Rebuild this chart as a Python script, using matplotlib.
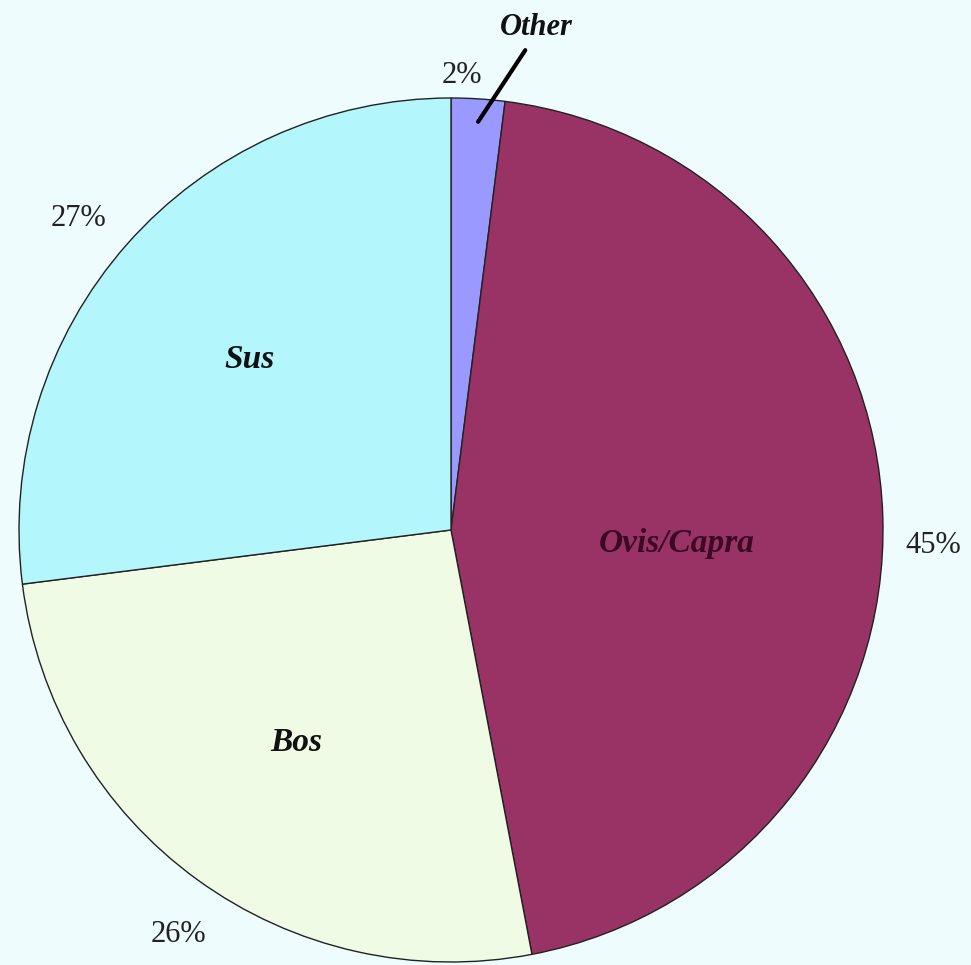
import numpy as np
import matplotlib
matplotlib.use("Agg")
import matplotlib.pyplot as plt

# clockwise from 12 o'clock
labels = ["Other", "Ovis/Capra", "Bos", "Sus"]
values = [2, 45, 26, 27]
colors = ["#9999ff", "#993366", "#f0fbe6", "#b3f6fb"]

BG = "#eefcfe"
R = 432
CX, CY = 451, 965 - 530

fig = plt.figure(figsize=(9.71, 9.65), dpi=100, facecolor=BG)
ax = fig.add_axes([0, 0, 1, 1])

wedges, _ = ax.pie(values, colors=colors, startangle=90, counterclock=False,
                   radius=R, center=(CX, CY),
                   wedgeprops=dict(edgecolor="#222222", linewidth=1.0))
# pie() resets the limits, so set them afterwards
ax.set_xlim(0, 971)
ax.set_ylim(0, 965)
ax.set_aspect("equal")
ax.axis("off")

serif = ["Liberation Serif", "DejaVu Serif"]


def at(angle, dist):
    a = np.deg2rad(angle)
    return CX + R * dist * np.cos(a), CY + R * dist * np.sin(a)


# (angle offset from slice middle, distance in radii)
outer_pos = {"Other": (2.2, 1.053), "Ovis/Capra": (-3.6, 1.116),
             "Bos": (2.0, 1.13), "Sus": (1.5, 1.125)}
inner_pos = {"Ovis/Capra": (-5.1, 0.524), "Bos": (0.0, 0.608),
             "Sus": (1.3, 0.611)}

for w, lab, val in zip(wedges, labels, values):
    mid = (w.theta1 + w.theta2) / 2
    da, dist = outer_pos[lab]
    x, y = at(mid + da, dist)
    ax.text(x, y, f"{val}%", ha="center", va="center", fontsize=22,
            family=serif, color="#222222")
    if lab == "Other":
        # callout line to the label above the slice
        x0, y0 = at(mid - 0.2, 0.947)
        x1, y1 = at(81.2, 1.124)
        ax.plot([x0, x1], [y0, y1], color="black", lw=3,
                solid_capstyle="round")
        x, y = at(80.3, 1.179)
        ax.text(x, y, lab, ha="center", va="center", fontsize=22,
                family=serif, style="italic", weight="bold", color="#111111")
        continue
    da, dist = inner_pos[lab]
    x, y = at(mid + da, dist)
    ax.text(x, y, lab, ha="center", va="center", fontsize=24, family=serif,
            style="italic", weight="bold",
            color="#3a0a24" if lab == "Ovis/Capra" else "#111111")

fig.savefig("out.png", dpi=100, facecolor=BG)
